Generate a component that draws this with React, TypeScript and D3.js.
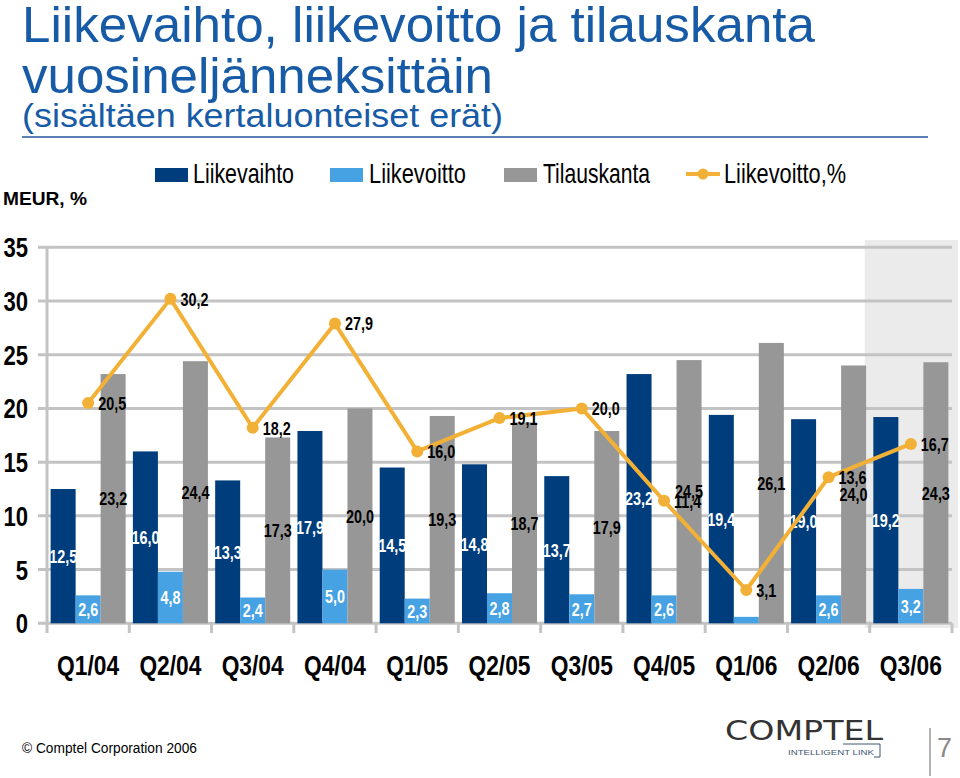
import React from "react";
import * as d3 from "d3";

const categories = ["Q1/04", "Q2/04", "Q3/04", "Q4/04", "Q1/05", "Q2/05", "Q3/05", "Q4/05", "Q1/06", "Q2/06", "Q3/06"];
const liikevaihto = [12.5, 16.0, 13.3, 17.9, 14.5, 14.8, 13.7, 23.2, 19.4, 19.0, 19.2];
const liikevoitto = [2.6, 4.8, 2.4, 5.0, 2.3, 2.8, 2.7, 2.6, 0.6, 2.6, 3.2];
const tilauskanta = [23.2, 24.4, 17.3, 20.0, 19.3, 18.7, 17.9, 24.5, 26.1, 24.0, 24.3];
const liikevoittoPct = [20.5, 30.2, 18.2, 27.9, 16.0, 19.1, 20.0, 11.4, 3.1, 13.6, 16.7];
const yTicks = [0, 5, 10, 15, 20, 25, 30, 35];
const seriesNames = ["Liikevaihto", "Liikevoitto", "Tilauskanta"];

const C_DARK = "#003d7c";
const C_LIGHT = "#47a2e3";
const C_GREY = "#979797";
const C_LINE = "#f2b136";
const C_GRID = "#c3c3c3";
const C_TITLE = "#175ba6";
const FONT = "'Liberation Sans', Arial, Helvetica, sans-serif";

const fmt = (v: number) => v.toFixed(1).replace(".", ",");

function Txt(props: {
  x: number; y: number; fs: number; text: string; anchor?: string; weight?: string | number;
  fill?: string; sy?: number; sx?: number; len?: number; dy?: string; ls?: number; family?: string;
}) {
  const { x, y, fs, text, anchor = "start", weight = "normal", fill = "#000", sy = 1, sx = 1, len, dy, ls, family } = props;
  return (
    <text
      transform={`translate(${x},${y}) scale(${sx},${sy})`}
      fontSize={fs}
      fontFamily={family || FONT}
      fontWeight={weight}
      fill={fill}
      textAnchor={anchor}
      dy={dy}
      letterSpacing={ls}
      textLength={len}
      lengthAdjust={len ? "spacingAndGlyphs" : undefined}
    >
      {text}
    </text>
  );
}

export default function App() {
  const W = 960, H = 778;
  const x0 = d3.scaleBand<string>().domain(categories).range([47, 952]).paddingInner(0).paddingOuter(0);
  const x1 = d3.scaleBand<string>().domain(seriesNames).range([0, x0.bandwidth()]).paddingInner(0).paddingOuter(0.145);
  const y = d3.scaleLinear().domain([0, 35]).range([623.3, 247.3]);
  const seriesVals = [liikevaihto, liikevoitto, tilauskanta];
  const seriesColors = [C_DARK, C_LIGHT, C_GREY];
  const lineGen = d3.line<number>()
    .x((_, i) => (x0(categories[i]) as number) + x0.bandwidth() / 2)
    .y((d) => y(d));
  const last = categories[categories.length - 1];

  return (
    <svg width={W} height={H} style={{ position: "absolute", left: 0, top: 0, background: "#fff" }}>
      <rect x={0} y={0} width={W} height={H} fill="#fff" />
      {/* Title */}
      <Txt x={22} y={42} fs={47} text="Liikevaihto, liikevoitto ja tilauskanta" fill={C_TITLE} len={793} sy={1.05} />
      <Txt x={22} y={93} fs={47} text="vuosineljänneksittäin" fill={C_TITLE} len={471} sy={1.05} />
      <Txt x={22} y={127} fs={32} text="(sisältäen kertaluonteiset erät)" fill={C_TITLE} len={481} sy={1.05} />
      <line x1={22} x2={928} y1={137} y2={137} stroke="#5b7fb3" strokeWidth={2} />

      {/* Legend */}
      <rect x={155} y={168} width={33} height={14} fill={C_DARK} />
      <Txt x={193} y={183} fs={28} text="Liikevaihto" len={101} />
      <rect x={330} y={168} width={33} height={14} fill={C_LIGHT} />
      <Txt x={369} y={183} fs={28} text="Liikevoitto" len={97} />
      <rect x={504} y={168} width={33} height={14} fill={C_GREY} />
      <Txt x={543} y={183} fs={28} text="Tilauskanta" len={107} />
      <line x1={686} x2={720} y1={174} y2={174} stroke={C_LINE} strokeWidth={4} />
      <circle cx={703} cy={174} r={5.5} fill={C_LINE} />
      <Txt x={724} y={183} fs={28} text="Liikevoitto,%" len={122} />

      <Txt x={3} y={205} fs={18} text="MEUR, %" weight="bold" len={84} sy={1.05} />

      {/* shaded last quarter */}
      <rect x={(x0(last) as number) - 5} y={240} width={958 - ((x0(last) as number) - 5)} height={388} fill="#ebebeb" />

      {/* grid */}
      {yTicks.map((t) => (
        <g key={t}>
          <line x1={38} x2={952} y1={y(t)} y2={y(t)} stroke={C_GRID} strokeWidth={3} />
          <Txt x={28} y={y(t)} fs={24} text={String(t)} anchor="end" weight="bold" sx={0.92} sy={1.15} dy="0.36em" />
        </g>
      ))}
      <line x1={47} x2={47} y1={y(35)} y2={633} stroke={C_GRID} strokeWidth={3} />
      {categories.map((c) => (
        <line key={c} x1={(x0(c) as number) + x0.bandwidth()} x2={(x0(c) as number) + x0.bandwidth()} y1={y(0)} y2={633} stroke={C_GRID} strokeWidth={3} />
      ))}

      {/* bars */}
      {categories.map((c, i) => (
        <g key={c} transform={`translate(${x0(c)},0)`}>
          {seriesNames.map((s, k) => {
            const v = seriesVals[k][i];
            return (
              <rect key={s} x={x1(s)} y={y(v)} width={x1.bandwidth()} height={y(0) - y(v)} fill={seriesColors[k]} />
            );
          })}
        </g>
      ))}
      {/* bar labels */}
      {categories.map((c, i) => (
        <g key={c} transform={`translate(${x0(c)},0)`}>
          {seriesNames.map((s, k) => {
            const v = seriesVals[k][i];
            if (v < 1) return null;
            return (
              <Txt key={s} x={(x1(s) as number) + x1.bandwidth() / 2} y={y(v / 2)} fs={16} text={fmt(v)} anchor="middle"
                weight="bold" fill={k === 2 ? "#000" : "#fff"} sx={0.9} sy={1.18} dy="0.36em" />
            );
          })}
        </g>
      ))}

      {/* line */}
      <path d={lineGen(liikevoittoPct) || ""} fill="none" stroke={C_LINE} strokeWidth={4} strokeLinejoin="round" />
      {liikevoittoPct.map((v, i) => {
        const cx = (x0(categories[i]) as number) + x0.bandwidth() / 2;
        return (
          <g key={i}>
            <circle cx={cx} cy={y(v)} r={6} fill={C_LINE} />
            <Txt x={cx + 10} y={y(v)} fs={16} text={fmt(v)} weight="bold" sx={0.9} sy={1.18} dy="0.36em" />
          </g>
        );
      })}

      {/* x labels */}
      {categories.map((c) => (
        <Txt key={c} x={(x0(c) as number) + x0.bandwidth() / 2} y={665} fs={24} text={c} anchor="middle" weight="bold" sx={0.95} sy={1.15} dy="0.36em" />
      ))}

      {/* footer */}
      <Txt x={22} y={753} fs={14} text="© Comptel Corporation 2006" len={175} />
      <Txt x={725} y={740} fs={27} text="COMPTEL" fill="#333" len={158} family="'DejaVu Sans', sans-serif" />
      <Txt x={788} y={755} fs={8} text="INTELLIGENT LINK" fill="#3d5670" len={86} />
      <path d="M 843 744 H 880 V 757 H 874" fill="none" stroke="#3d5670" strokeWidth={1} />
      <line x1={930} x2={930} y1={728} y2={776} stroke="#999" strokeWidth={1.5} />
      <Txt x={937} y={757} fs={27} text="7" fill="#8a8a8a" />
    </svg>
  );
}
